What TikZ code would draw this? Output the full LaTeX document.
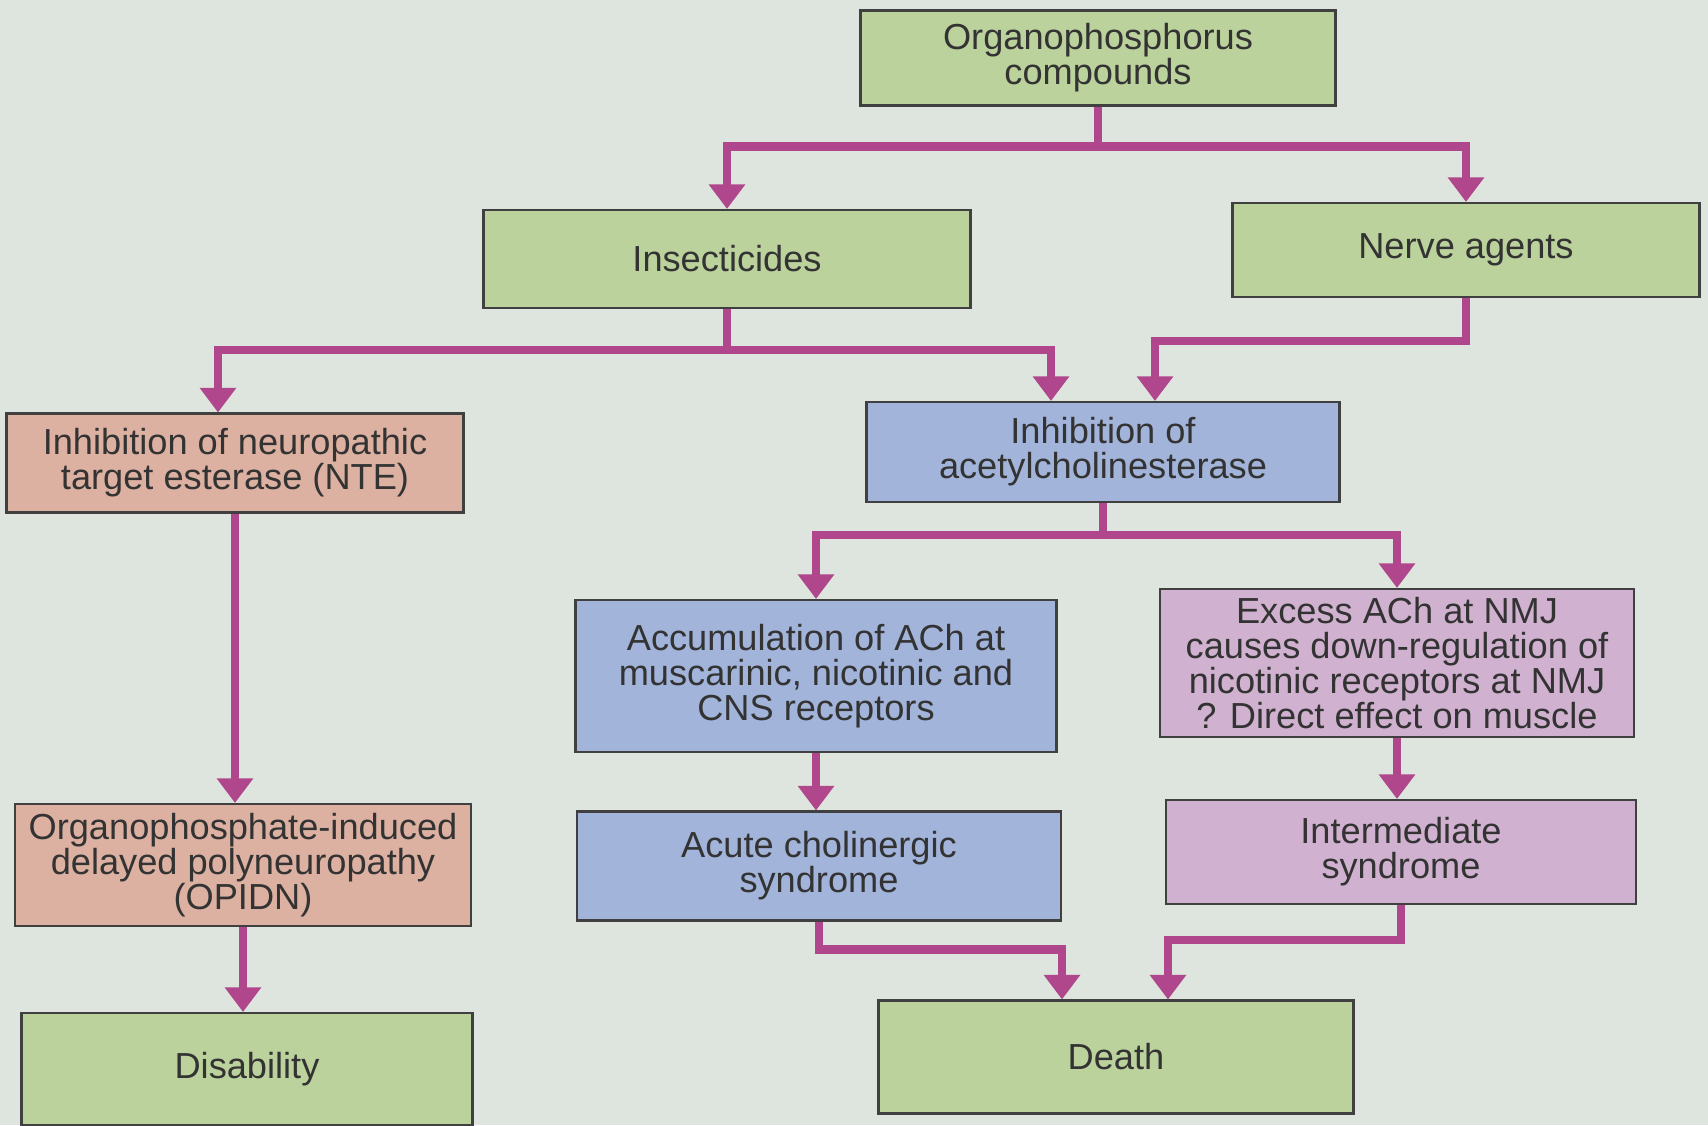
\documentclass[tikz,border=0pt]{standalone}
\usepackage{fontspec}
\setmainfont{Liberation Sans}
\usepackage{xcolor}
\usetikzlibrary{arrows.meta}
\definecolor{paper}{HTML}{DEE4DE}
\definecolor{opgreen}{HTML}{BCD29C}
\definecolor{opsalmon}{HTML}{DDB1A2}
\definecolor{opblue}{HTML}{A2B4DA}
\definecolor{oplilac}{HTML}{D0B2D0}
\definecolor{oplink}{HTML}{B0468C}

\begin{document}
\begin{tikzpicture}
		\tikzset{box/.style = {draw=black!75, line width=0.6pt, minimum width=4.75cm, minimum height=1cm, align=center, text=black!80, inner xsep=2pt, inner ysep=1pt, font=\fontsize{10.3}{10}\selectfont}}
		\tikzset{link/.style = {draw=oplink, line width=2.4pt, -{Triangle[width=10pt,length=7pt]}}}

		\useasboundingbox (0,0) rectangle (17.08,11.25);
		\fill[paper] (0,0) rectangle (17.08,11.25);

		\node[box, fill=opgreen, minimum width=4.75cm, minimum height=0.95cm] (OP) at (10.98,10.67) {Organophosphorus\\compounds};

		\node[box, fill=opgreen, minimum width=4.87cm, minimum height=0.98cm] (Ins) at (7.27,8.66) {Insecticides};
		\node[box, fill=opgreen, minimum width=4.67cm, minimum height=0.94cm] (Nerve) at (14.66,8.75) {Nerve agents};

		\node[box, fill=opsalmon, minimum width=4.57cm, minimum height=0.99cm] (NTE) at (2.35,6.62) {Inhibition of neuropathic\\target esterase (NTE)};
		\node[box, fill=opblue, minimum width=4.73cm, minimum height=1cm] (AChE) at (11.03,6.73) {Inhibition of\\acetylcholinesterase};

		\node[box, fill=opblue, minimum width=4.81cm, minimum height=1.52cm] (Acc) at (8.16,4.49) {Accumulation of ACh at\\muscarinic, nicotinic and\\CNS receptors};
		\node[box, fill=oplilac, minimum width=4.74cm, minimum height=1.48cm] (Exc) at (13.97,4.62) {Excess ACh at NMJ\\causes down-regulation of\\nicotinic receptors at NMJ\\? Direct effect on muscle};

		\node[box, fill=opsalmon, minimum width=4.56cm, minimum height=1.22cm] (OPIDN) at (2.43,2.60) {Organophosphate-induced\\delayed polyneuropathy\\(OPIDN)};
		\node[box, fill=opblue, minimum width=4.84cm, minimum height=1.09cm] (Acute) at (8.19,2.59) {Acute cholinergic\\syndrome};
		\node[box, fill=oplilac, minimum width=4.70cm, minimum height=1.04cm] (Inter) at (14.01,2.73) {Intermediate\\syndrome};

		\node[box, fill=opgreen, minimum width=4.51cm, minimum height=1.12cm] (Dis) at (2.47,0.56) {Disability};
		\node[box, fill=opgreen, minimum width=4.75cm, minimum height=1.13cm] (Death) at (11.16,0.68) {Death};


		\draw[link] (OP.south) -- ++(0,-0.4) -| (Ins.north);
		\draw[link] (OP.south) -- ++(0,-0.4) -| (Nerve.north);

		\draw[link] (Ins.south) -- ++(0,-0.41) -| ([xshift=-1.7mm]NTE.north);
		\draw[link] (Ins.south) -- ++(0,-0.41) -| ([xshift=-5.2mm]AChE.north);
		\draw[link] (Nerve.south) -- ++(0,-0.43) -| ([xshift=5.2mm]AChE.north);

		\draw[link] (AChE.south) -- ++(0,-0.32) -| (Acc.north);
		\draw[link] (AChE.south) -- ++(0,-0.32) -| (Exc.north);

		\draw[link] (NTE.south) -- (NTE.south |- OPIDN.north);
		\draw[link] (Acc.south) -- (Acc.south |- Acute.north);
		\draw[link] (Exc.south) -- (Exc.south |- Inter.north);
		\draw[link] (OPIDN.south) -- (OPIDN.south |- Dis.north);

		\draw[link] (Acute.south) -- ++(0,-0.28) -| ([xshift=-5.4mm]Death.north);
		\draw[link] (Inter.south) -- ++(0,-0.35) -| ([xshift=5.2mm]Death.north);

	\end{tikzpicture}
\end{document}
